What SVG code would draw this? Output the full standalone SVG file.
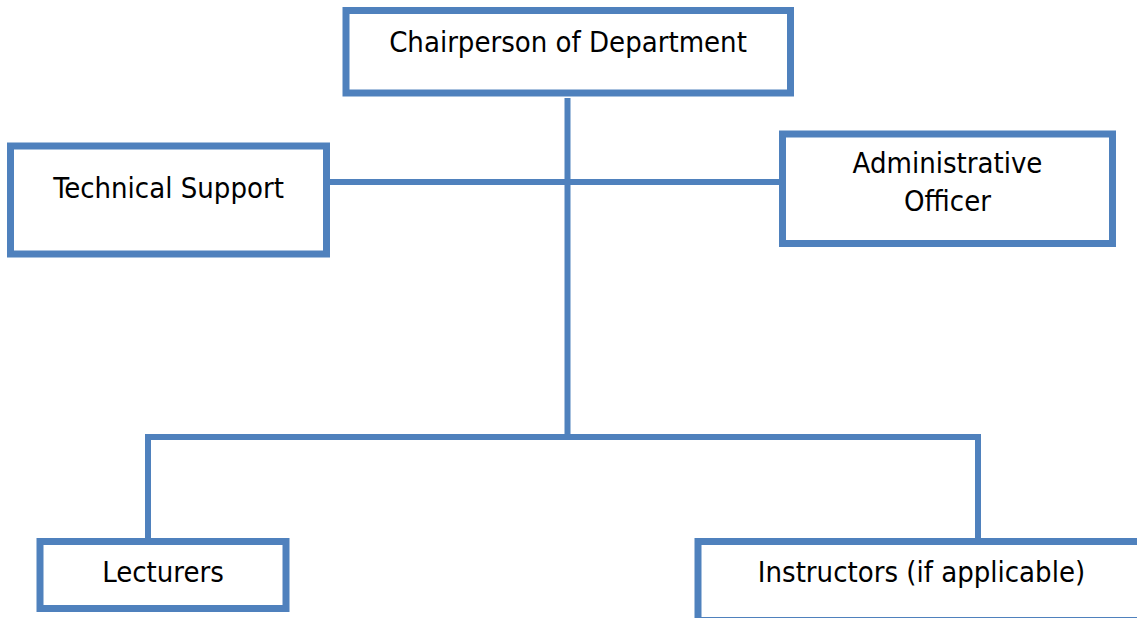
<svg xmlns="http://www.w3.org/2000/svg" width="1137" height="618" viewBox="0 0 1137 618">
  <style>
    .box { fill: #ffffff; stroke: #4F81BD; stroke-width: 7; }
    .link { fill: none; stroke: #4F81BD; stroke-width: 6; }
    .label { font-family: "DejaVu Sans Condensed", "DejaVu Sans", sans-serif; font-stretch: condensed; font-size: 29px; fill: #000000; text-anchor: middle; }
  </style>
  <rect width="1137" height="618" fill="#ffffff"/>

  <g id="connectors">
    <line class="link" x1="567.5" y1="98" x2="567.5" y2="437"/>
    <line class="link" x1="330" y1="182" x2="779" y2="182"/>
    <path class="link" d="M148 539 V437 H978 V539"/>
  </g>

  <g id="chairperson">
    <rect class="box" x="346" y="10.5" width="444.5" height="82.5"/>
    <text class="label" x="568" y="52">Chairperson of Department</text>
  </g>

  <g id="technical-support">
    <rect class="box" x="10.5" y="146" width="316" height="108"/>
    <text class="label" x="168.5" y="198">Technical Support</text>
  </g>

  <g id="administrative-officer">
    <rect class="box" x="782.5" y="134" width="330" height="109.5"/>
    <text class="label" x="947.5" y="173">Administrative</text>
    <text class="label" x="947.5" y="211">Officer</text>
  </g>

  <g id="lecturers">
    <rect class="box" x="40" y="541.5" width="246" height="67"/>
    <text class="label" x="163" y="582">Lecturers</text>
  </g>

  <g id="instructors">
    <rect class="box" x="698" y="541.5" width="447" height="79"/>
    <text class="label" x="921.5" y="582">Instructors (if applicable)</text>
  </g>
</svg>
